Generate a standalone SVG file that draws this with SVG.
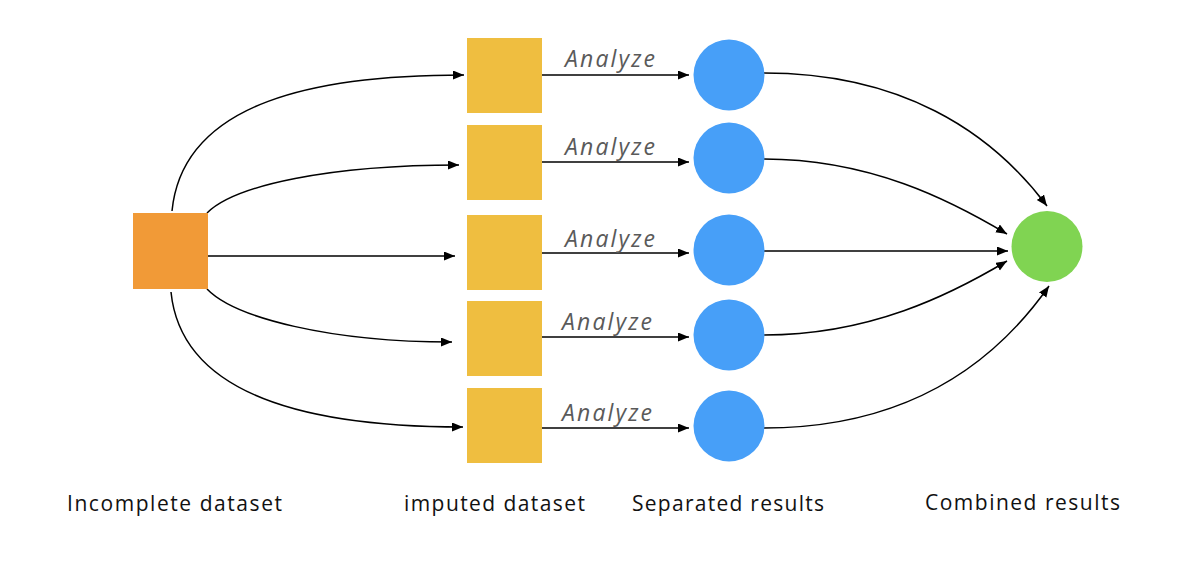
<svg xmlns="http://www.w3.org/2000/svg" width="1180" height="562" viewBox="0 0 1180 562">
<style>
.edge{fill:none;stroke:#000;stroke-width:1.5;marker-end:url(#ah)}
.lbl{font-family:"Open Sans","Noto Sans",sans-serif;font-size:21px;fill:#111}
.an{font-family:"Open Sans","Noto Sans",sans-serif;font-size:23px;font-style:italic;font-weight:400;fill:#5a5a5a}
.imp{fill:#EFBE40}
.res{fill:#479FF8}
</style>
<defs>
<marker id="ah" markerUnits="userSpaceOnUse" markerWidth="12" markerHeight="10" refX="11" refY="4.5" orient="auto">
<path d="M0,0 L11,4.5 L0,9 z" fill="#000"/>
</marker>
</defs>
<rect width="1180" height="562" fill="#fff"/>
<g id="connectors">
<path class="edge" d="M172,211 C183,100 320,75 464,75"/>
<path class="edge" d="M207,213 C235,185 330,165 459,165"/>
<path class="edge" d="M208,256 L455,256"/>
<path class="edge" d="M207,289 C235,318 330,342 452,342"/>
<path class="edge" d="M171,292 C182,400 320,427 463,427"/>
<path class="edge" d="M542,75 L689,75"/>
<path class="edge" d="M542,162 L689,162"/>
<path class="edge" d="M542,253 L689,253"/>
<path class="edge" d="M542,337 L689,337"/>
<path class="edge" d="M542,428 L689,428"/>
<path class="edge" d="M764,73 C900,73 990,130 1047,206"/>
<path class="edge" d="M764,159 C870,159 950,200 1007,234"/>
<path class="edge" d="M764,251 L1008,251"/>
<path class="edge" d="M764,335 C870,335 950,295 1007,261"/>
<path class="edge" d="M764,428 C900,428 990,370 1049,286"/>
<text class="an" x="565" y="67" textLength="90" lengthAdjust="spacing">Analyze</text>
<text class="an" x="565" y="155" textLength="90" lengthAdjust="spacing">Analyze</text>
<text class="an" x="565" y="247" textLength="90" lengthAdjust="spacing">Analyze</text>
<text class="an" x="562" y="330" textLength="90" lengthAdjust="spacing">Analyze</text>
<text class="an" x="562" y="421" textLength="90" lengthAdjust="spacing">Analyze</text>
</g>
<g id="incomplete">
<rect x="133" y="213" width="75" height="76" fill="#F19A37"/>
<text class="lbl" x="67" y="511" textLength="215" lengthAdjust="spacing">Incomplete dataset</text>
</g>
<g id="imputed1"><rect class="imp" x="467" y="38" width="75" height="75"/></g>
<g id="imputed2"><rect class="imp" x="467" y="125" width="75" height="75"/></g>
<g id="imputed3"><rect class="imp" x="467" y="215" width="75" height="75"/></g>
<g id="imputed4"><rect class="imp" x="467" y="301" width="75" height="75"/></g>
<g id="imputed5"><rect class="imp" x="467" y="388" width="75" height="75"/></g>
<g id="imputed-label"><text class="lbl" x="404" y="511" textLength="181" lengthAdjust="spacing">imputed dataset</text></g>
<g id="result1"><circle class="res" cx="729" cy="75" r="35.5"/></g>
<g id="result2"><circle class="res" cx="729" cy="158" r="35.5"/></g>
<g id="result3"><circle class="res" cx="729" cy="250" r="35.5"/></g>
<g id="result4"><circle class="res" cx="729" cy="335" r="35.5"/></g>
<g id="result5"><circle class="res" cx="729" cy="426" r="35.5"/></g>
<g id="separated-label"><text class="lbl" x="632" y="511" textLength="192" lengthAdjust="spacing">Separated results</text></g>
<g id="combined">
<circle cx="1047" cy="246.5" r="35.5" fill="#80D452"/>
<text class="lbl" x="925" y="510" textLength="195" lengthAdjust="spacing">Combined results</text>
</g>
</svg>
